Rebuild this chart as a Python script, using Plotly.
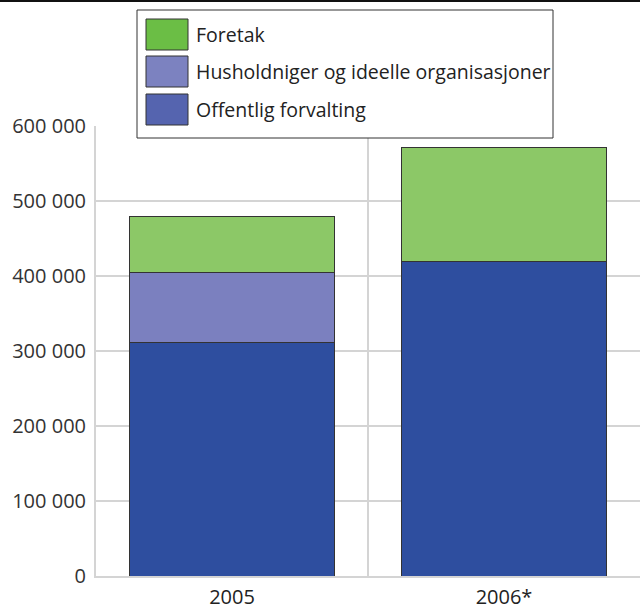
import plotly.graph_objects as go

categories = ["2005", "2006*"]
series_names = ["Offentlig forvalting", "Husholdniger og ideelle organisasjoner", "Foretak"]
offentlig = [312000, 420000]
husholdninger = [93000, 0]
foretak = [75000, 152000]
y_ticks = [0, 100000, 200000, 300000, 400000, 500000, 600000]

bar_colors = ["#2E4E9F", "#7B80BF", "#8CC867"]
legend_colors = ["#5564AF", "#7C82C0", "#6BBE45"]

W, H = 640, 616
L, R, T, B = 96, 0, 126, 40
PW, PH = W - L - R, H - T - B

def px(x):
    return (x - L) / PW

def py(y):
    return (H - B - y) / PH

fig = go.Figure()
for name, vals, col in zip(series_names, [offentlig, husholdninger, foretak], bar_colors):
    fig.add_trace(go.Bar(
        x=categories, y=vals, name=name, marker=dict(color=col, line=dict(color="#333333", width=1)),
        width=0.755, showlegend=False,
    ))

shapes = [
    dict(type="line", xref="paper", yref="paper", x0=px(0), x1=px(640), y0=py(1), y1=py(1),
         line=dict(color="#111111", width=2)),
    dict(type="rect", xref="paper", yref="paper", x0=px(137), x1=px(553), y0=py(138), y1=py(10),
         line=dict(color="#333333", width=1), fillcolor="white", layer="above"),
]
annotations = []
rows = [("Foretak", legend_colors[2], 19), (series_names[1], legend_colors[1], 56),
        (series_names[0], legend_colors[0], 94)]
for text, col, top in rows:
    shapes.append(dict(type="rect", xref="paper", yref="paper", x0=px(146), x1=px(188),
                       y0=py(top + 31), y1=py(top), line=dict(color="#333333", width=1),
                       fillcolor=col, layer="above"))
    annotations.append(dict(text=text, xref="paper", yref="paper", x=px(194), y=py(top + 15.5),
                            xanchor="left", yanchor="middle", showarrow=False,
                            font=dict(size=19.5, color="#222222", family="Open Sans")))

fig.update_layout(
    width=W, height=H, margin=dict(l=L, r=R, t=T, b=B, pad=0),
    barmode="stack", bargap=0.245,
    paper_bgcolor="white", plot_bgcolor="white",
    separators=", ",
    font=dict(family="Open Sans", size=20, color="#333333"),
    shapes=shapes, annotations=annotations,
    xaxis=dict(range=[-0.5, 1.5], tickson="boundaries", showgrid=True, gridcolor="#D4D4D4",
               gridwidth=2, ticks="", showline=True, linecolor="#D4D4D4", linewidth=2,
               ticklabelstandoff=2, tickfont=dict(size=20, color="#222222")),
    yaxis=dict(range=[0, 600000], tickvals=y_ticks, showgrid=True, gridcolor="#D4D4D4", gridwidth=2,
               showline=True, linecolor="#D4D4D4", linewidth=2, zeroline=False, ticks="",
               tickformat=",d", ticklabelstandoff=4, tickfont=dict(size=20, color="#333333")),
)

fig.write_html("out.html", config={"displayModeBar": False},
               post_script="document.body.style.margin='0';")
